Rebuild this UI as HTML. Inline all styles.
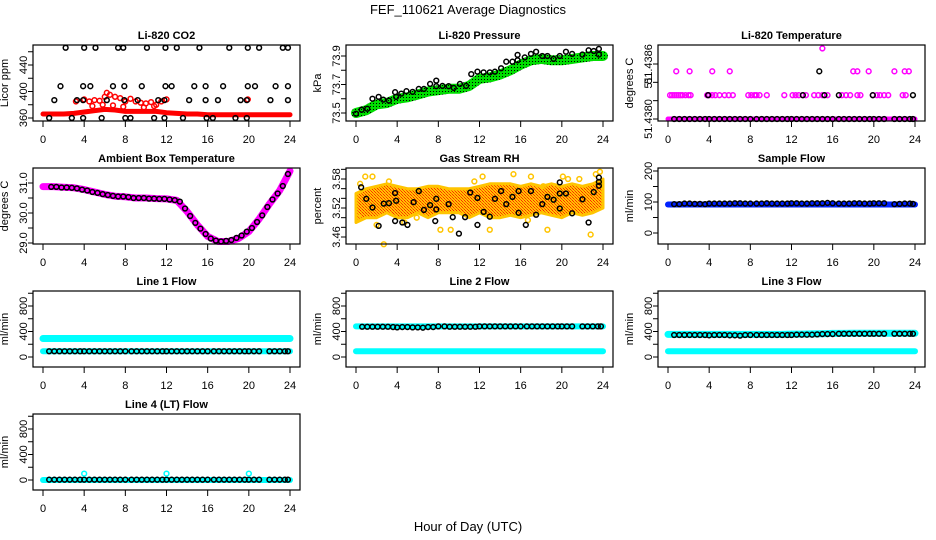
<!DOCTYPE html>
<html><head><meta charset="utf-8">
<style>
html,body{margin:0;padding:0;background:#fff;}
svg{display:block;font-family:"Liberation Sans",Arial,sans-serif;}
</style></head>
<body>
<svg id="chart" width="936" height="540" viewBox="0 0 936 540" xmlns="http://www.w3.org/2000/svg">
<defs>
<pattern id="greenPat" width="3" height="3" patternUnits="userSpaceOnUse"><rect width="3" height="3" fill="#00dd00"/><rect x="1" y="1" width="1" height="1" fill="#000"/></pattern>
<pattern id="rhPat" width="3" height="3" patternUnits="userSpaceOnUse"><rect width="3" height="3" fill="#ffc400"/><rect x="0" y="0" width="1" height="1" fill="#ff2a00"/><rect x="1" y="1" width="1" height="1" fill="#ff5a00"/><rect x="2" y="2" width="1" height="1" fill="#ff2a00"/></pattern>
</defs>
<text x="468" y="14" text-anchor="middle" font-size="13">FEF_110621  Average Diagnostics</text>
<text x="468" y="531" text-anchor="middle" font-size="13">Hour of Day (UTC)</text>
</svg>
<script>
// ---------- data ----------
const xTicks = [0,4,8,12,16,20,24];
const flowHours = [0.6,1.1,1.6,2.1,2.6,3.1,3.6,4.0,4.5,5.0,5.5,6.0,6.5,7.0,7.5,8.0,8.6,9.1,9.6,10.1,10.6,11.1,11.6,12.0,12.5,13.0,13.5,14.0,14.5,15.0,15.5,16.0,16.6,17.1,17.6,18.1,18.6,19.1,19.6,20.0,20.5,21.0,22.0,22.5,23.0,23.5,23.8];
const bandHours = [0,1,2,3,4,5,6,7,8,9,10,11,12,13,14,15,16,17,18,19,20,21,22,23,24];

// CO2
const co2Band = [366,366,366,367,369,371,373,372,370,370,370,370,368,367,366,366,365,365,365,365,365,365,365,365,365];
const co2RedHours = [3.2,4.0,4.5,5.0,5.5,6.0,6.2,6.5,7.0,7.5,8.0,8.5,9.0,9.5,10.0,10.5,11.0,11.5,12.0,19.9,4.8,5.8,6.8,7.8,9.8,10.8];
const co2RedVals = [385,388,385,387,386,392,398,395,392,390,385,389,385,383,382,384,380,385,388,388,378,380,379,377,376,378];
const co2TopHours = [2.2,4.0,5.1,7.3,7.8,10.1,11.9,13.0,15.2,18.1,19.9,21.0,23.3,23.8];
const co2TopVals = [466,466,466,466,466,466,466,466,466,466,466,466,466,466];
const co2MidHours = [1.7,3.9,4.6,6.8,7.9,9.6,11.9,12.5,14.7,15.8,17.5,19.9,20.6,22.6,23.8];
const co2MidVals = [408,408,408,408,408,408,408,408,408,408,408,408,408,408,408];
const co2LowHours = [1.1,3.3,3.9,6.2,7.9,9.2,11.2,11.8,14.2,15.8,17.0,19.2,19.8,22.1,23.8];
const co2LowVals = [387,387,387,387,387,387,387,387,387,387,387,387,387,387,387];
const co2BotHours = [0.6,2.8,3.9,5.7,8.0,8.5,10.8,11.8,13.6,15.9,16.5,18.7,19.8];
const co2BotVals = [360,360,360,360,360,360,360,360,360,360,360,360,360];

// Pressure
const presBand = [73.5,73.52,73.56,73.57,73.6,73.61,73.63,73.65,73.66,73.67,73.67,73.69,73.74,73.75,73.77,73.8,73.84,73.87,73.88,73.87,73.87,73.88,73.89,73.9,73.9];
const presHours = [0,0.55,1.1,1.6,2.2,2.65,3.2,3.8,3.9,4.4,4.9,5.5,6.1,6.6,7.2,7.8,7.8,8.4,9.0,9.5,10.1,10.7,11.2,11.8,12.4,13.0,13.5,14.1,14.6,15.2,15.7,15.7,16.4,17.0,17.5,18.1,18.6,19.2,19.8,20.4,21.0,22.0,22.6,23.1,23.6,23.6];
const presVals = [73.495,73.523,73.53,73.6,73.613,73.594,73.587,73.646,73.613,73.636,73.653,73.648,73.669,73.669,73.704,73.727,73.688,73.69,73.688,73.676,73.704,73.69,73.773,73.79,73.785,73.785,73.79,73.814,73.86,73.86,73.908,73.87,73.89,73.915,73.93,73.9,73.9,73.88,73.9,73.93,73.915,73.91,73.94,73.935,73.95,73.91];

// Li-820 temperature
const ltMagMidHours = [0.2,0.4,0.6,0.8,1.0,1.2,1.4,1.7,2.0,2.2,3.8,4.0,4.3,4.6,5.0,5.5,5.9,6.3,7.8,8.1,8.4,8.6,8.9,9.6,11.3,12.1,12.4,12.7,13.1,13.4,14.2,14.6,15.0,15.5,16.9,17.3,17.7,18.4,18.7,19.9,20.3,20.6,21.0,21.4,22.8,23.1];
const ltMagMidVals = ltMagMidHours.map(()=>51.43826);
const ltMagTopHours = [0.8,2.1,4.3,6.0,18.0,18.4,19.5,22.0,23.0,23.4,15.0];
const ltMagTopVals = [51.43852,51.43852,51.43852,51.43852,51.43852,51.43852,51.43852,51.43852,51.43852,51.43852,51.43877];
const ltBlackMidHours = [3.9,13.1,15.2,16.6,19.9,23.8];
const ltBlackMidVals = [51.43826,51.43826,51.43826,51.43826,51.43826,51.43826];
const ltBlackTopHours = [14.7];
const ltBlackTopVals = [51.43852];
const ltBand = [51.438,51.438,51.438,51.438,51.438,51.438,51.438,51.438,51.438,51.438,51.438,51.438,51.438,51.438,51.438,51.438,51.438,51.438,51.438,51.438,51.438,51.438,51.438,51.438,51.438];
const ltBotVals = flowHours.map(()=>51.438);

// Ambient box temperature
const ambBand = [30.88,30.88,30.86,30.84,30.78,30.7,30.62,30.56,30.54,30.5,30.5,30.48,30.47,30.42,30.05,29.6,29.22,29.05,29.05,29.15,29.38,29.8,30.3,30.75,31.4];
const ambHours = [0.8,1.3,1.8,2.3,2.8,3.3,3.8,4.3,4.8,5.3,5.8,6.3,6.8,7.3,7.8,8.3,8.8,9.3,9.8,10.3,10.8,11.3,11.8,12.3,12.8,13.3,13.8,14.3,14.8,15.3,15.8,16.3,16.8,17.3,17.8,18.3,18.8,19.3,19.8,20.3,20.8,21.3,21.8,22.3,22.8,23.3,23.8];
const ambVals = [30.87,30.87,30.85,30.85,30.84,30.82,30.78,30.75,30.7,30.67,30.63,30.6,30.57,30.55,30.55,30.53,30.5,30.5,30.5,30.48,30.48,30.47,30.47,30.45,30.43,30.38,30.15,29.9,29.67,29.48,29.3,29.15,29.08,29.05,29.07,29.1,29.17,29.25,29.38,29.5,29.7,29.92,30.2,30.45,30.65,30.9,31.3];

// Gas stream RH
const rhUpper = [3.55,3.56,3.565,3.57,3.565,3.56,3.56,3.565,3.565,3.56,3.56,3.56,3.565,3.57,3.57,3.57,3.565,3.57,3.565,3.57,3.565,3.57,3.565,3.57,3.58];
const rhLower = [3.49,3.50,3.50,3.51,3.50,3.50,3.51,3.50,3.51,3.51,3.51,3.50,3.51,3.50,3.50,3.505,3.50,3.505,3.51,3.505,3.50,3.51,3.505,3.51,3.52];
const rhYelHours = [0.2,0.4,0.9,1.6,2.0,2.7,3.2,4.7,5.9,8.2,9.2,11.5,12.3,13.0,15.3,16.7,17.0,18.2,18.6,20.1,20.6,21.7,22.8,23.3,23.7];
const rhYelVals = [3.50,3.57,3.585,3.585,3.485,3.445,3.575,3.49,3.50,3.475,3.475,3.575,3.585,3.475,3.59,3.495,3.585,3.565,3.475,3.585,3.58,3.58,3.465,3.59,3.595];
const rhHours = [0.5,1.0,1.6,2.2,2.7,3.2,3.8,3.9,3.8,4.5,5.0,5.6,6.1,6.6,7.2,7.7,7.8,7.8,9.0,9.4,10.0,10.6,11.1,11.8,11.8,12.4,13.0,13.5,14.1,14.6,15.2,15.8,15.8,16.5,17.0,17.5,18.1,18.6,19.2,19.8,19.8,19.8,20.4,21.0,22.0,22.6,23.1,23.6,23.6,23.6];
const rhVals = [3.563,3.539,3.521,3.483,3.529,3.530,3.551,3.535,3.493,3.49,3.485,3.532,3.555,3.516,3.526,3.493,3.517,3.539,3.528,3.501,3.467,3.501,3.552,3.541,3.485,3.512,3.502,3.539,3.555,3.528,3.543,3.555,3.51,3.485,3.555,3.506,3.528,3.543,3.537,3.519,3.55,3.573,3.55,3.509,3.538,3.49,3.553,3.566,3.574,3.583];

// Sample flow
const sampBand = [92,92,92,92,92,92,92,92,92,92,92,92,92,92,92,92,92,92,92,92,92,92,92,92,92];
const sampVals = [93,93,95,95,94,94,93,95,95,95,95,95,96,96,95,95,95,95,96,95,95,95,95,96,96,95,95,96,96,96,97,96,95,95,95,96,96,95,95,96,96,96,93,94,95,95,94];

// Line flows
const l1Upper = [290,290,290,290,290,290,290,290,290,290,290,290,290,290,290,290,290,290,290,290,290,290,290,290,290];
const l1Lower = [90,90,90,90,90,90,90,90,90,90,90,90,90,90,90,90,90,90,90,90,90,90,90,90,90];
const l1Black = [90,90,90,90,90,90,90,90,90,90,90,90,90,90,90,90,90,90,90,90,90,90,90,90,90,90,90,90,90,90,90,90,90,90,90,90,90,90,90,90,90,90,90,90,90,90,90];
const l2Upper = [480,480,480,480,480,480,480,480,480,480,480,480,480,480,480,480,480,480,480,480,480,480,480,480,480];
const l2Lower = [90,90,90,90,90,90,90,90,90,90,90,90,90,90,90,90,90,90,90,90,90,90,90,90,90];
const l2Black = [475,475,475,475,475,475,470,465,470,470,465,465,460,470,470,480,480,475,475,475,475,475,475,480,480,480,480,480,480,480,480,480,480,480,480,480,480,480,480,480,480,480,480,480,480,480,480];
const l3Upper = [355,355,355,355,355,355,355,355,355,355,355,355,360,360,362,365,370,370,372,372,372,372,372,372,372];
const l3Lower = [90,90,90,90,90,90,90,90,90,90,90,90,90,90,90,90,90,90,90,90,90,90,90,90,90];
const l3Black = [345,345,345,345,345,345,345,340,345,345,345,340,340,335,345,345,345,345,345,345,345,345,345,345,350,350,350,350,355,360,360,360,365,365,365,365,365,365,365,365,365,365,365,365,365,365,365];
const l4Band = [0,0,0,0,0,0,0,0,0,0,0,0,0,0,0,0,0,0,0,0,0,0,0,0,0];
const l4Black = [5,5,5,5,5,5,5,5,5,5,5,5,5,5,5,5,5,5,5,5,5,5,5,5,5,5,5,5,5,5,5,5,5,5,5,5,5,5,5,5,5,5,5,5,5,5,5];
const l4OutHours = [4,12,20];
const l4OutVals = [100,100,100];

// ---------- drawing ----------
const svg = document.getElementById('chart');
const NS = 'http://www.w3.org/2000/svg';
function mk(tag, attrs, parent){
  const e = document.createElementNS(NS, tag);
  for (const k in attrs) e.setAttribute(k, attrs[k]);
  (parent||svg).appendChild(e);
  return e;
}
const colLeft = [33,346,658];
const rowTop = [45,168,291,414];
const PW = 267, PH = 76;

function makePanel(col,row,name,title,ylab,yTicks,yLabels,ymap){
  const L = colLeft[col], T = rowTop[row];
  const g = mk('g',{});
  
  
  const xs = h => L + 10 + h*(247/24);
  const ys = v => ymap[1] + (v-ymap[0])*(ymap[3]-ymap[1])/(ymap[2]-ymap[0]);
  const t = mk('text',{x:L+PW/2,y:T-6,'text-anchor':'middle','font-size':11,'font-weight':'bold'},g);
  t.textContent = title;
  
  
  const yl = mk('text',{x:0,y:0,'text-anchor':'middle','font-size':11,transform:`translate(${L-25},${T+PH/2}) rotate(-90)`},g);
  yl.textContent = ylab;
  
  
  const xa = mk('g',{},g);
  
  
  xTicks.forEach(h=>{
    mk('line',{x1:xs(h),x2:xs(h),y1:T+PH,y2:T+PH+6,stroke:'#000','stroke-width':1},xa);
    const tl = mk('text',{x:xs(h),y:T+PH+22,'text-anchor':'middle','font-size':11},xa);
    tl.textContent = h;
  });
  const ya = mk('g',{},g);
  
  
  yTicks.forEach((v,i)=>{
    const y = ys(v);
    mk('line',{x1:L-5,x2:L,y1:y,y2:y,stroke:'#000','stroke-width':1},ya);
    if (yLabels[i]) {
      const tl = mk('text',{x:0,y:0,'text-anchor':'middle','font-size':11,transform:`translate(${L-6},${y}) rotate(-90)`},ya);
      tl.textContent = yLabels[i];
    }
  });
  const plot = mk('g',{},g);
  
  
  const box = mk('rect',{x:L,y:T,width:PW,height:PH,fill:'none',stroke:'#000','stroke-width':1.2},g);
  
  
  return {xs,ys,plot,g};
}
function band(p,hours,vals,color,width,nm){
  const pts = hours.map((h,i)=>p.xs(h).toFixed(1)+','+p.ys(vals[i]).toFixed(1)).join(' ');
  const e = mk('polyline',{points:pts,fill:'none',stroke:color,'stroke-width':width,'stroke-linecap':'round','stroke-linejoin':'round'},p.plot);
  
  
}
function pts(p,hours,vals,color,nm,r){
  const gg = mk('g',{},p.plot);
  
  
  hours.forEach((h,i)=>{
    mk('circle',{cx:p.xs(h),cy:p.ys(vals[i]),r:r||2.4,fill:'none',stroke:color,'stroke-width':1.5},gg);
  });
}
function area(p,hours,up,lo,fill,nm){
  let d = hours.map((h,i)=>(i?'L':'M')+p.xs(h).toFixed(1)+','+p.ys(up[i]).toFixed(1)).join(' ');
  for (let i=hours.length-1;i>=0;i--) d += ' L'+p.xs(hours[i]).toFixed(1)+','+p.ys(lo[i]).toFixed(1);
  const e = mk('path',{d:d+' Z',fill:fill,stroke:'#ffc400','stroke-width':3,'stroke-linejoin':'round'},p.plot);
  
  
}

let p = makePanel(0,0,'co2','Li-820 CO2','Licor ppm',[360,380,400,420,440,460],['360','','400','','440',''],[360,118,440,65]);
band(p,bandHours,co2Band,'#ff0000',5,'co2-red-band');
pts(p,co2RedHours,co2RedVals,'#ff0000','co2-red-points');
pts(p,co2TopHours,co2TopVals,'#000','co2-black-points-top');
pts(p,co2MidHours,co2MidVals,'#000','co2-black-points-mid');
pts(p,co2LowHours,co2LowVals,'#000','co2-black-points-low');
pts(p,co2BotHours,co2BotVals,'#000','co2-black-points-bottom');

p = makePanel(1,0,'pressure','Li-820 Pressure','kPa',[73.5,73.6,73.7,73.8,73.9],['73.5','','73.7','','73.9'],[73.5,113,73.9,56]);
band(p,bandHours,presBand,'url(#greenPat)',10,'pressure-green-band');
pts(p,presHours,presVals,'#000','pressure-black-points');

p = makePanel(2,0,'li820-temp','Li-820 Temperature','degrees C',[51.438,51.4382,51.4384,51.4386],['51.4380','','51','51.4386'],[51.438,119,51.4386,64]);
band(p,bandHours,ltBand,'#ff00ff',5,'li820-temp-magenta-band');
pts(p,ltMagMidHours,ltMagMidVals,'#ff00ff','li820-temp-magenta-mid');
pts(p,ltMagTopHours,ltMagTopVals,'#ff00ff','li820-temp-magenta-top');
pts(p,flowHours,ltBotVals,'#000','li820-temp-black-bottom');
pts(p,ltBlackMidHours,ltBlackMidVals,'#000','li820-temp-black-mid');
pts(p,ltBlackTopHours,ltBlackTopVals,'#000','li820-temp-black-top');

p = makePanel(0,1,'ambient-temp','Ambient Box Temperature','degrees C',[29.0,29.5,30.0,30.5,31.0],['29.0','','30.0','','31.0'],[29,243,31,183]);
band(p,bandHours,ambBand,'#ff00ff',7,'ambient-magenta-band');
pts(p,ambHours,ambVals,'#000','ambient-black-points');

p = makePanel(1,1,'gas-rh','Gas Stream RH','percent',[3.46,3.48,3.50,3.52,3.54,3.56,3.58,3.60],['3.46','','','3.52','','','3.58',''],[3.46,237,3.58,179]);
area(p,bandHours,rhUpper,rhLower,'url(#rhPat)','gas-rh-orange-cloud');
pts(p,rhYelHours,rhYelVals,'#ffc400','gas-rh-yellow-points');
pts(p,rhHours,rhVals,'#000','gas-rh-black-points');

p = makePanel(2,1,'sample-flow','Sample Flow','ml/min',[0,50,100,150,200],['0','','100','','200'],[0,233,200,171]);
band(p,bandHours,sampBand,'#0022ff',6,'sample-blue-band');
pts(p,flowHours,sampVals,'#000','sample-black-points');

const fTicks=[0,200,400,600,800,1000], fLabs=['0','','400','','800',''];
p = makePanel(0,2,'line1-flow','Line 1 Flow','ml/min',fTicks,fLabs,[0,357,800,306]);
band(p,bandHours,l1Upper,'#00ffff',7,'line1-cyan-upper');
band(p,bandHours,l1Lower,'#00ffff',6,'line1-cyan-lower');
pts(p,flowHours,l1Black,'#000','line1-black-points');

p = makePanel(1,2,'line2-flow','Line 2 Flow','ml/min',fTicks,fLabs,[0,357,800,306]);
band(p,bandHours,l2Upper,'#00ffff',6,'line2-cyan-upper');
band(p,bandHours,l2Lower,'#00ffff',6,'line2-cyan-lower');
pts(p,flowHours,l2Black,'#000','line2-black-points');

p = makePanel(2,2,'line3-flow','Line 3 Flow','ml/min',fTicks,fLabs,[0,357,800,306]);
band(p,bandHours,l3Upper,'#00ffff',7,'line3-cyan-upper');
band(p,bandHours,l3Lower,'#00ffff',6,'line3-cyan-lower');
pts(p,flowHours,l3Black,'#000','line3-black-points');

p = makePanel(0,3,'line4-flow','Line 4 (LT) Flow','ml/min',fTicks,fLabs,[0,480,800,429]);
band(p,bandHours,l4Band,'#00ffff',6,'line4-cyan-band');
pts(p,flowHours,l4Black,'#000','line4-black-points');
pts(p,l4OutHours,l4OutVals,'#00ffff','line4-cyan-outliers');
</script>
</body></html>
